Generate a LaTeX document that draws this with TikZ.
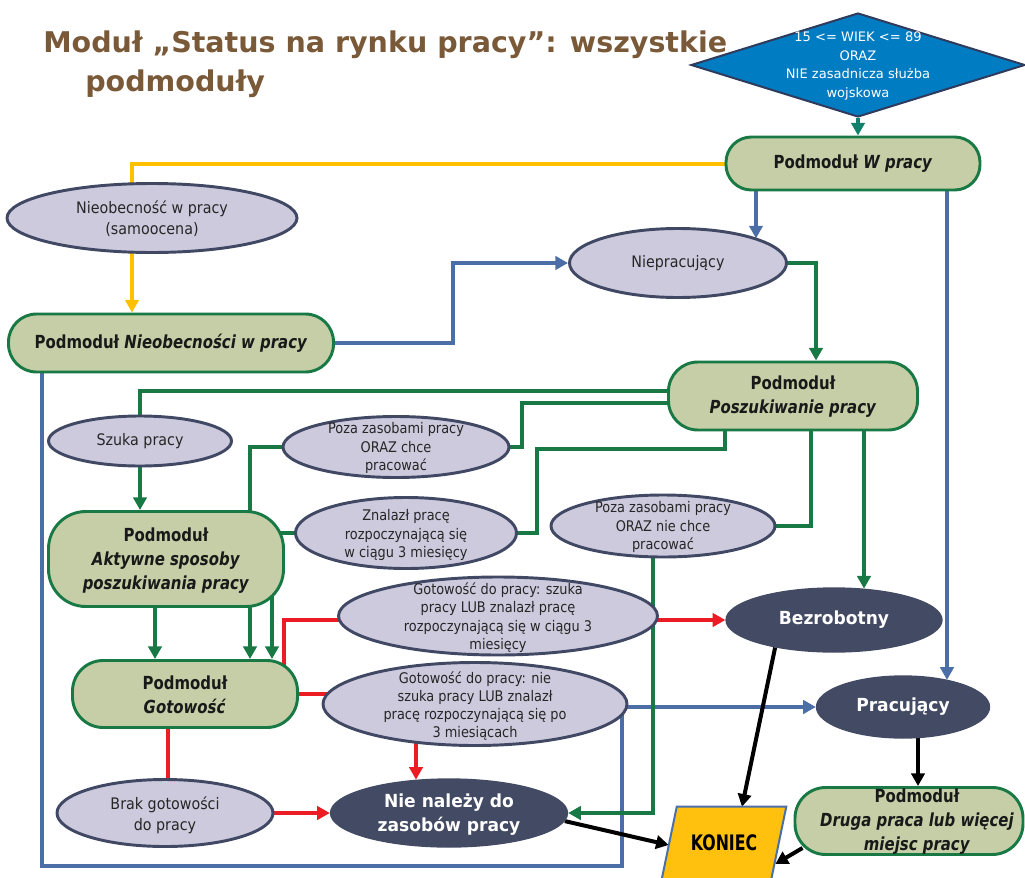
\documentclass[tikz,border=0pt]{standalone}
\usepackage{fontspec}
\setmainfont{DejaVu Sans}[BoldFont={DejaVu Sans Bold},ItalicFont={DejaVu Sans Oblique},BoldItalicFont={DejaVu Sans Bold Oblique}]
\newfontfamily\lavfont{DejaVu Sans}[FakeStretch=0.88]
\newfontfamily\bigfont{DejaVu Sans}[FakeStretch=0.9]
\newfontfamily\bdfont{DejaVu Sans Bold}[FakeStretch=0.83,ItalicFont={DejaVu Sans Bold Oblique}]
\newfontfamily\wfont{DejaVu Sans Bold}[FakeStretch=0.95]
\newfontfamily\konfont{DejaVu Sans Bold}[FakeStretch=0.74]
\usetikzlibrary{arrows.meta,shapes.geometric,calc}
\definecolor{gline}{RGB}{24,121,68}
\definecolor{tealline}{RGB}{18,128,108}
\definecolor{bline}{RGB}{76,110,166}
\definecolor{yline}{RGB}{255,192,0}
\definecolor{rline}{RGB}{236,28,36}
\definecolor{lavfill}{RGB}{205,202,221}
\definecolor{lavdraw}{RGB}{64,72,100}
\definecolor{olivefill}{RGB}{197,206,166}
\definecolor{darkfill}{RGB}{67,74,99}
\definecolor{diamfill}{RGB}{0,124,195}
\definecolor{diamdraw}{RGB}{47,59,92}
\definecolor{konfill}{RGB}{255,193,14}
\definecolor{kondraw}{RGB}{75,112,168}
\definecolor{titlec}{RGB}{121,89,56}
\pgfdeclarelayer{bg}
\pgfsetlayers{bg,main}
\begin{document}
\begin{tikzpicture}[x=0.75pt,y=-0.75pt,
  gl/.style={draw=gline,line width=3pt},
  tl/.style={draw=tealline,line width=2.6pt},
  bl/.style={draw=bline,line width=2.6pt},
  yl/.style={draw=yline,line width=3pt},
  rl/.style={draw=rline,line width=3.2pt},
  kl/.style={draw=black,line width=3pt},
  arr/.style={-{Triangle[length=9.5pt,width=10pt]}},
  stad/.style={draw=gline,fill=olivefill,line width=2.2pt,rounded corners=#1,inner sep=0pt},
  lav/.style={ellipse,draw=lavdraw,fill=lavfill,line width=2.2pt,inner sep=0pt},
  dk/.style={ellipse,draw=darkfill,fill=darkfill,line width=1pt,inner sep=0pt},
  bigtxt/.style={font=\bigfont\fontsize{11.9pt}{15.5pt}\selectfont,align=center,inner sep=0pt,text=black!85},
  smtxt/.style={font=\lavfont\fontsize{11pt}{13.7pt}\selectfont,align=center,inner sep=0pt,text=black!85},
  bdtxt/.style={font=\bdfont\fontsize{13.5pt}{18pt}\selectfont,align=center,inner sep=0pt,text=black!90},
  wtxt/.style={font=\wfont\fontsize{13.5pt}{18pt}\selectfont,align=center,inner sep=0pt,text=white},
  titlefont/.style={font=\fontsize{21.4pt}{26pt}\selectfont\bfseries,text=titlec,inner sep=0pt,anchor=base west}
]
\useasboundingbox (0,0) rectangle (1025,878);

% title
\node[titlefont] (title1) at (43,52) {Moduł „Status na rynku pracy”: wszystkie};
\node[titlefont] (title2) at (85,91) {podmoduły};

% diamond
\node[diamond,draw=diamdraw,fill=diamfill,line width=1.5pt,minimum width=250.5pt,minimum height=78pt,inner sep=0pt] (diam) at (858,65) {};
\node[font=\fontsize{9.8pt}{14pt}\selectfont,text=white,align=center,inner sep=0pt] (diamT) at (858,66) {15 <= WIEK <= 89\\ORAZ\\NIE zasadnicza służba\\wojskowa};

% modules (stadiums)
\node[stad=19pt,minimum width=190.5pt,minimum height=39.75pt] (wpracy) at (853,163.5) {};
\node[bdtxt] (wpracyT) at (wpracy) {Podmoduł \textit{W pracy}};
\node[stad=21pt,minimum width=243.75pt,minimum height=43.5pt] (nieobmod) at (171,343) {};
\node[bdtxt] (nieobmodT) at (nieobmod) {Podmoduł \textit{Nieobecności w pracy}};
\node[stad=22pt,minimum width=186.75pt,minimum height=51pt] (poszmod) at (793,396) {};
\node[bdtxt] (poszmodT) at (793,397) {Podmoduł\\\textit{Poszukiwanie pracy}};
\node[stad=28pt,minimum width=176.25pt,minimum height=71.25pt] (aktywne) at (166,559) {};
\node[bdtxt] (aktywneT) at (166,561) {Podmoduł\\\textit{Aktywne sposoby}\\\textit{poszukiwania pracy}};
\node[stad=23pt,minimum width=168.75pt,minimum height=50.25pt] (gotmod) at (185,694) {};
\node[bdtxt] (gotmodT) at (185,695) {Podmoduł\\\textit{Gotowość}};
\node[stad=23pt,minimum width=171pt,minimum height=50.25pt] (druga) at (909,821) {};
\node[bdtxt] (drugaT) at (917,822) {Podmoduł\\\textit{Druga praca lub więcej}\\\textit{miejsc pracy}};

% lavender ellipses
\node[lav,minimum width=217.5pt,minimum height=51.75pt] (nieob) at (152,218) {};
\node[bigtxt] (nieobT) at (152,219) {Nieobecność w pracy\\(samoocena)};
\node[lav,minimum width=162.75pt,minimum height=51.75pt] (niepr) at (678,263) {};
\node[bigtxt] (nieprT) at (niepr) {Niepracujący};
\node[lav,minimum width=137.25pt,minimum height=37.5pt] (szuka) at (140,441) {};
\node[bigtxt] (szukaT) at (szuka) {Szuka pracy};
\node[lav,minimum width=169.5pt,minimum height=45.75pt] (pozachce) at (396,447) {};
\node[smtxt] (pozachceT) at (396,448) {Poza zasobami pracy\\ORAZ chce\\pracować};
\node[lav,minimum width=165.75pt,minimum height=53.25pt] (znalazl) at (406,533) {};
\node[smtxt] (znalazlT) at (406,535) {Znalazł pracę\\rozpoczynającą się\\w ciągu 3 miesięcy};
\node[lav,minimum width=168pt,minimum height=46.5pt] (pozaniechce) at (663,526) {};
\node[smtxt] (pozaniechceT) at (663,527) {Poza zasobami pracy\\ORAZ nie chce\\pracować};
\node[lav,minimum width=239.25pt,minimum height=58.5pt] (gotszuka) at (498,616) {};
\node[smtxt] (gotszukaT) at (498,617.5) {Gotowość do pracy: szuka\\pracy LUB znalazł pracę\\rozpoczynającą się w ciągu 3\\miesięcy};
\node[lav,minimum width=228pt,minimum height=62.25pt] (gotnie) at (475,704) {};
\node[smtxt] (gotnieT) at (475,706) {Gotowość do pracy: nie\\szuka pracy LUB znalazł\\pracę rozpoczynającą się po\\3 miesiącach};
\node[lav,minimum width=162pt,minimum height=50.25pt] (brak) at (165,813) {};
\node[bigtxt] (brakT) at (165,815) {Brak gotowości\\do pracy};

% dark ellipses
\node[dk,minimum width=162pt,minimum height=48pt] (bezrob) at (834,620) {};
\node[wtxt] (bezrobT) at (bezrob) {Bezrobotny};
\node[dk,minimum width=129.75pt,minimum height=46.5pt] (pracuj) at (903,707) {};
\node[wtxt] (pracujT) at (pracuj) {Pracujący};
\node[dk,minimum width=177.75pt,minimum height=51pt] (nienal) at (449,813) {};
\node[wtxt] (nienalT) at (449,815) {Nie należy do\\zasobów pracy};

% KONIEC
\node[inner sep=0pt,minimum width=93pt,minimum height=54pt] (koniec) at (724,843) {};
\draw[fill=konfill,draw=kondraw,line width=1.5pt] (koniec.south west) -- ($(koniec.north west)+(15,0)$) -- (koniec.north east) -- ($(koniec.south east)+(-15,0)$) -- cycle;
\node[font=\konfont\fontsize{16pt}{18pt}\selectfont,inner sep=0pt] (koniecT) at (koniec) {KONIEC};

\begin{pgfonlayer}{bg}
% from diamond
\draw[tl,arr] (diam.south) -- (wpracy.north -| diam.south);
% yellow
\draw[yl,arr] (wpracy.center) -- (132,0 |- wpracy.center) -- (132,0 |- nieobmod.north);
% blue
\draw[bl,arr] (756,0 |- wpracy.center) -- (756,0 |- niepr.17);
\draw[bl,arr] (947,0 |- wpracy.center) -- (947,0 |- pracuj.31);
\draw[bl,arr] (nieobmod.center) -- (453,0 |- nieobmod.center) -- (453,0 |- niepr.west) -- (niepr.west);
\draw[bl,arr] (42,0 |- nieobmod.center) -- (42,866) -- (622,866) -- (622,0 |- pracuj.west) -- (pracuj.west);
% green
\draw[gl,arr] (niepr.center) -- (816,0 |- niepr.center) -- (816,0 |- poszmod.north);
\draw[gl] (poszmod.center |- 0,391) -- (140,391) -- (szuka.center);
\draw[gl,arr] (szuka.center) -- (szuka.center |- aktywne.north);
\draw[gl] (poszmod.center |- 0,403) -- (522,403) -- (522,0 |- pozachce.center) -- (pozachce.center);
\draw[gl,arr] (pozachce.center) -- (250,0 |- pozachce.center) -- (250,0 |- gotmod.north);
\draw[gl,arr] (znalazl.center) -- (272,0 |- znalazl.center) -- (272,0 |- gotmod.north);
\draw[gl,arr] (155,0 |- aktywne.center) -- (155,0 |- gotmod.north);
\draw[gl] (725,0 |- poszmod.center) -- (725,449) -- (537,449) -- (537,0 |- znalazl.center) -- (znalazl.center);
\draw[gl] (811,0 |- poszmod.center) -- (811,0 |- pozaniechce.center) -- (pozaniechce.center);
\draw[gl,arr] (653,0 |- pozaniechce.center) -- (653,0 |- nienal.east) -- (nienal.east);
\draw[gl,arr] (864,0 |- poszmod.center) -- (864,0 |- bezrob.46);
% red
\draw[rl,arr] (284,0 |- gotmod.center) -- (284,620) -- (bezrob.west);
\draw[rl,arr] (gotmod.center) -- (416,0 |- gotmod.center) -- (416,0 |- nienal.135);
\draw[rl,arr] (168,0 |- gotmod.center) -- (168,0 |- nienal.west) -- (nienal.west);
% black
\draw[kl,arr] (bezrob.205) -- ($(koniec.north)+(18,0)$);
\draw[kl,arr] (nienal.356) -- ($(koniec.west)+(7,2)$);
\draw[kl,arr] (918,0 |- pracuj.center) -- (918,0 |- druga.north);
\draw[kl,arr] ($(druga.south west)+(9,-8)$) -- ($(koniec.east)+(-11,21)$);
\end{pgfonlayer}
\end{tikzpicture}
\end{document}
